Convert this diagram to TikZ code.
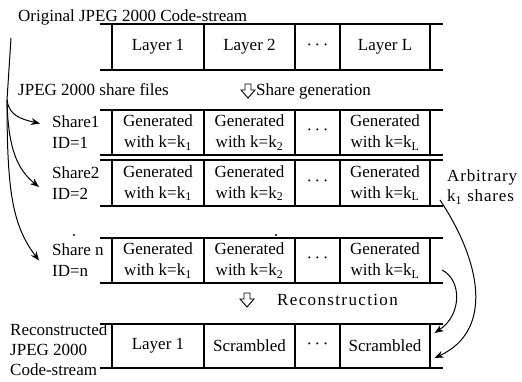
\documentclass[tikz,border=0pt]{standalone}
\usepackage{fontspec}
\setmainfont{Liberation Serif}
\usetikzlibrary{arrows.meta}

% one horizontal band of cells: lines at #1 (top) and #2 (bottom)
\newcommand\bandrow[2]{%
  \draw[hline] (100,#1) -- (443,#1) (100,#2) -- (443,#2);
  \foreach \xx in {112,204,295,340,430} \draw[vline] (\xx,#1) -- (\xx,#2);
}
\newcommand\cdotsx{\textperiodcentered\hspace{2.5pt}\textperiodcentered\hspace{2.5pt}\textperiodcentered}

\begin{document}
\begin{tikzpicture}[x=1pt,y=-1pt,
  font=\fontsize{17}{21}\selectfont,
  hline/.style={line width=1.6pt},
  vline/.style={line width=1.1pt},
  cell/.style={align=center,inner sep=0pt},
  lbl/.style={align=left,anchor=west,inner sep=0pt},
  txt/.style={anchor=base west,inner sep=0pt},
  flow/.style={line width=1pt,-{Stealth[length=9pt,width=7pt]}},
  hollow/.style={line width=0.9pt,fill=white,line join=miter},
  spaced/.style={font=\fontsize{17}{21}\selectfont\addfontfeatures{LetterSpace=8}}]
\useasboundingbox (0,0) rectangle (522,382);

% bands of cells
\bandrow{24}{70}
\bandrow{110}{155}
\bandrow{160}{206}
\bandrow{238}{283}
\bandrow{324}{368}

% original code-stream
\node[txt] (orig) at (18,22) {Original JPEG 2000 Code-stream};
\node[cell] (l1) at (158,47) {Layer 1};
\node[cell] (l2) at (249.5,47) {Layer 2};
\node[cell] (ld) at (317.5,47) {\cdotsx};
\node[cell] (lL) at (385,47) {Layer L};

\node[txt] (files) at (18,96) {JPEG 2000 share files};
\draw[hollow] (245,84) -- (251,84) -- (251,90) -- (255,90) -- (248,98) -- (241,90) -- (245,90) -- cycle;
\node[txt] (gen) at (256,96) {Share generation};

% share 1
\node[lbl] (sh1) at (52,132.5) {Share1\\ID=1};
\node[cell] (s1a) at (158,132.5) {Generated\\with k=k\textsubscript{1}};
\node[cell] (s1b) at (249.5,132.5) {Generated\\with k=k\textsubscript{2}};
\node[cell] (s1d) at (317.5,132.5) {\cdotsx};
\node[cell] (s1L) at (385,132.5) {Generated\\with k=k\textsubscript{L}};

% share 2
\node[lbl] (sh2) at (52,183) {Share2\\ID=2};
\node[cell] (s2a) at (158,183) {Generated\\with k=k\textsubscript{1}};
\node[cell] (s2b) at (249.5,183) {Generated\\with k=k\textsubscript{2}};
\node[cell] (s2d) at (317.5,183) {\cdotsx};
\node[cell] (s2L) at (385,183) {Generated\\with k=k\textsubscript{L}};

% share n
\fill (74,235) circle (1.1) (276,235) circle (1.1);
\node[lbl] (shn) at (52,260.5) {Share n\\ID=n};
\node[cell] (sna) at (158,260.5) {Generated\\with k=k\textsubscript{1}};
\node[cell] (snb) at (249.5,260.5) {Generated\\with k=k\textsubscript{2}};
\node[cell] (snd) at (317.5,260.5) {\cdotsx};
\node[cell] (snL) at (385,260.5) {Generated\\with k=k\textsubscript{L}};

% reconstruction
\draw[hollow] (244,293) -- (250,293) -- (250,299) -- (254,299) -- (247,307) -- (240,299) -- (244,299) -- cycle;
\node[txt,spaced] (rec) at (277,305) {Reconstruction};

\node[lbl,font=\fontsize{17}{20}\selectfont] (rlab) at (10,350) {Reconstructed\\JPEG 2000\\Code-stream};
\node[cell] (r1) at (158,346) {Layer 1};
\node[cell] (r2) at (249.5,346) {Scrambled};
\node[cell] (rd) at (317.5,346) {\cdotsx};
\node[cell] (rL) at (385,346) {Scrambled};

% any k1 shares
\node[txt,font=\fontsize{17}{21}\selectfont\addfontfeatures{LetterSpace=5}] (arb) at (447,182) {Arbitrary};
\node[txt,font=\fontsize{17}{21}\selectfont\addfontfeatures{LetterSpace=5}] (kk) at (447,202) {k\textsubscript{1} shares};

% distribution of the code-stream into shares
\coordinate (src) at (11,38);
\coordinate (fork) at (7,100);
\draw[line width=1pt] (src) -- (fork);
\draw[flow] (fork) .. controls (9,115) and (20,119) .. ([shift={(-12,-9)}]sh1.west);
\draw[flow] (fork) .. controls (8,150) and (18,170) .. ([shift={(-13,4)}]sh2.west);
\draw[flow] (fork) .. controls (7,190) and (12,225) .. ([shift={(-13,0)}]shn.west);

% shares gathered for reconstruction
\coordinate (k1s) at (440,200);
\draw[flow] (k1s) .. controls (480,260) and (495,330) .. ([shift={(13,12)}]rL.east);
\coordinate (nL) at (442,270);
\draw[flow] (nL) .. controls (462,280) and (462,315) .. ([shift={(13,-13)}]rL.east);
\end{tikzpicture}
\end{document}
